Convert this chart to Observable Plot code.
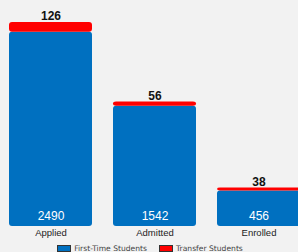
<!DOCTYPE html>
<html>
<head>
<meta charset="utf-8">
<script src="https://cdn.jsdelivr.net/npm/d3@7"></script>
<script src="https://cdn.jsdelivr.net/npm/@observablehq/plot@0.6"></script>
<style>
  html, body { margin: 0; padding: 0; background: #f2f2f2; overflow: hidden; }
  #wrap { width: 298px; height: 252px; overflow: hidden; font-family: "Liberation Sans", Arial, sans-serif; }
  svg { overflow: hidden; display: block; }
  .legend { display: flex; justify-content: center; align-items: center; height: 12px; padding-top: 2px; font-family: "DejaVu Sans", Verdana, sans-serif; font-size: 7.6px; color: #444; margin-left: 2px; }
  .legend .sw { display: inline-block; width: 14px; height: 7px; border: 1px solid #333; margin-right: 3px; box-sizing: border-box; }
  .legend .item { display: flex; align-items: center; margin: 0 6px; }
</style>
</head>
<body>
<div id="wrap"></div>
<script>
const categories = ["Applied", "Admitted", "Enrolled"];
const firstTime = [2490, 1542, 456];
const transfer = [126, 56, 38];
const seriesNames = ["First-Time Students", "Transfer Students"];
const colors = ["#0070c0", "#ff0000"];

const rows = [];
categories.forEach((c, i) => {
  rows.push({cat: c, series: seriesNames[0], value: firstTime[i], y1: 0, y2: firstTime[i]});
});
categories.forEach((c, i) => {
  rows.push({cat: c, series: seriesNames[1], value: transfer[i], y1: firstTime[i], y2: firstTime[i] + transfer[i]});
});
const blue = rows.filter(d => d.series === seriesNames[0]);
const red = rows.filter(d => d.series === seriesNames[1]);

const chart = Plot.plot({
  width: 298,
  height: 240,
  marginTop: 22,
  marginBottom: 14,
  marginLeft: 0,
  marginRight: 0,
  style: {background: "#f2f2f2", fontFamily: "'Liberation Sans', Arial, sans-serif", fontSize: "9.5px", color: "#222"},
  x: {domain: categories, range: [-1.4, 310.6], paddingInner: 0.2, paddingOuter: 0.1, axis: "bottom", tickSize: 0, tickPadding: 3, label: null},
  y: {domain: [0, 2616], axis: null},
  color: {domain: seriesNames, range: colors},
  marks: [
    Plot.rectY(blue, {x: "cat", y1: "y1", y2: "y2", fill: "series", rx: 3}),
    Plot.rectY(red, {x: "cat", y1: "y1", y2: "y2", fill: "series", rx: 3}),
    Plot.text(red, {x: "cat", y: "y2", text: d => String(d.value), dy: -6, fill: "#111", fontSize: 12, fontWeight: "bold"}),
    Plot.text(blue, {x: "cat", y: 0, text: d => String(d.value), dy: -10, fill: "white", fontSize: 12})
  ]
});

const wrap = document.getElementById("wrap");
wrap.appendChild(chart);
const legend = document.createElement("div");
legend.className = "legend";
seriesNames.forEach((s, i) => {
  const item = document.createElement("span");
  item.className = "item";
  const sw = document.createElement("span");
  sw.className = "sw";
  sw.style.background = colors[i];
  item.appendChild(sw);
  item.appendChild(document.createTextNode(s));
  legend.appendChild(item);
});
wrap.appendChild(legend);
</script>
</body>
</html>
